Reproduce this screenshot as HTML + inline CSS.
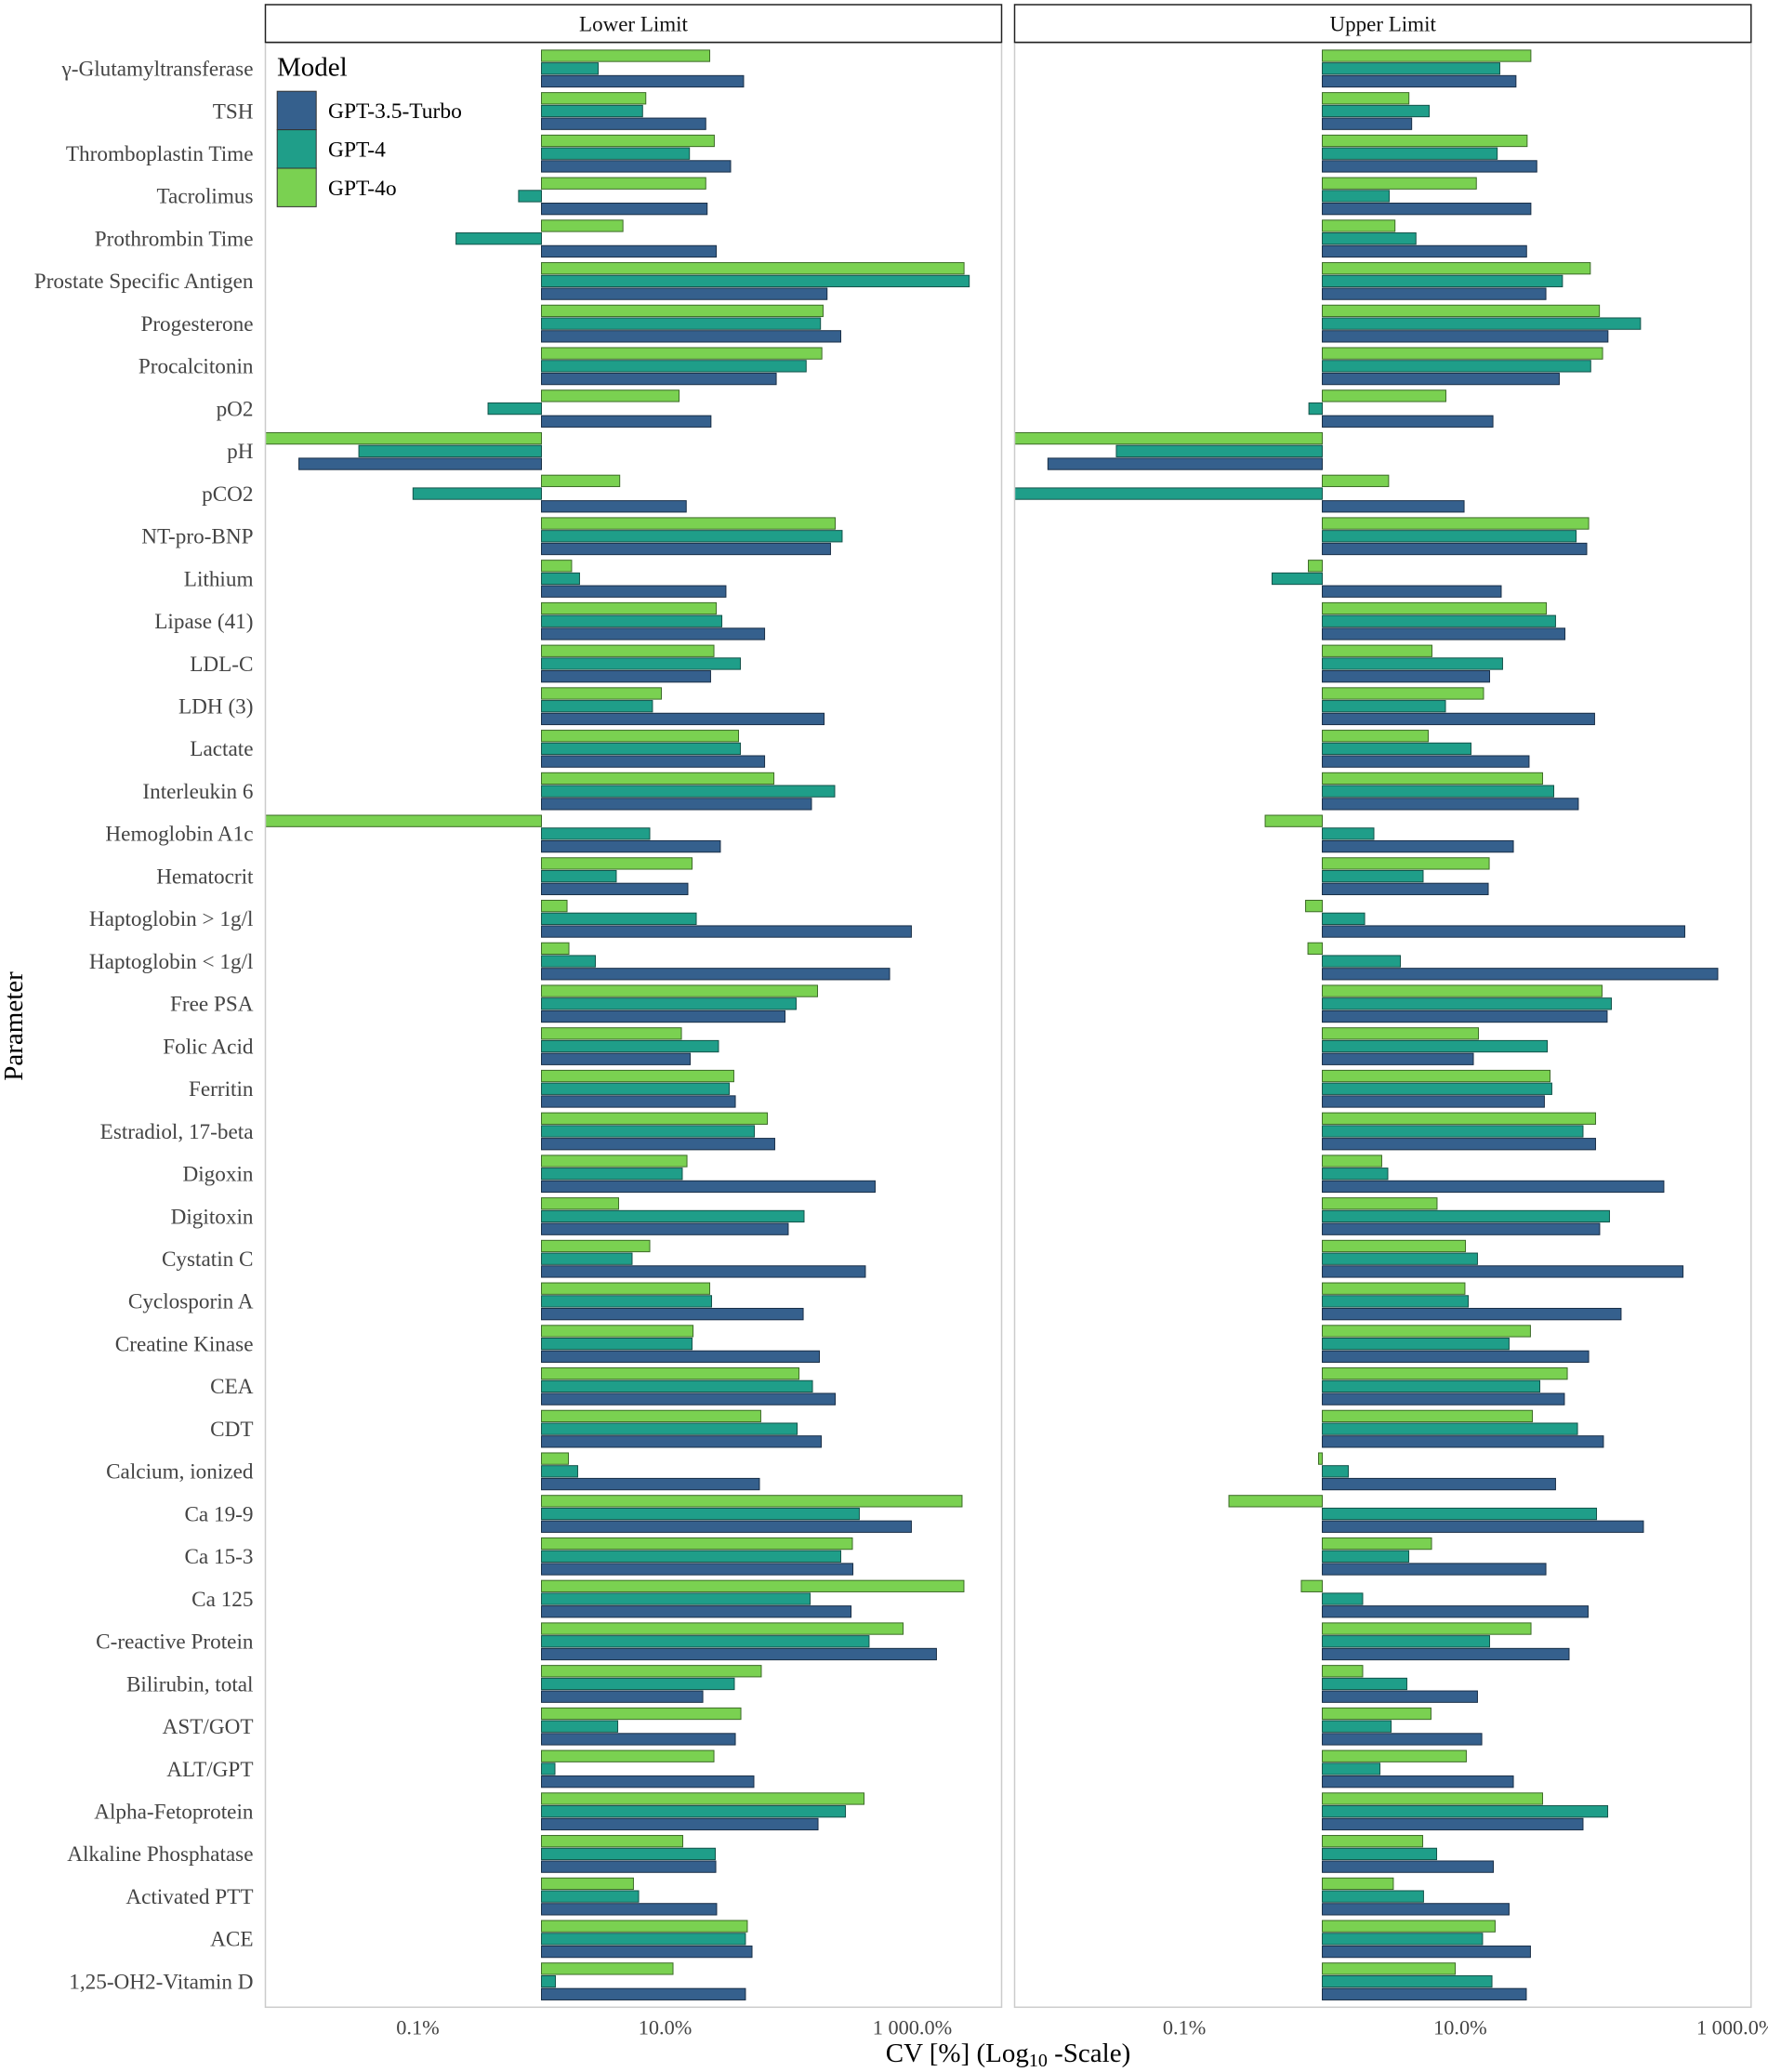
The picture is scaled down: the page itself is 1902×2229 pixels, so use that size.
<!DOCTYPE html>
<html lang="en">
<head>
<meta charset="utf-8">
<title>CV by Parameter and Model</title>
<style>
html,body{margin:0;padding:0;background:#fff;width:1902px;height:2229px;overflow:hidden}
svg{display:block;font-family:"Liberation Serif","Noto Serif CJK SC",serif}
</style>
</head>
<body>
<svg id="chart" xmlns="http://www.w3.org/2000/svg" width="1902" height="2229" viewBox="0 0 1902 2229">
  <defs>
    <clipPath id="clip-lower"><rect x="286" y="46" width="791.5" height="2113.3"/></clipPath>
    <clipPath id="clip-upper"><rect x="1092" y="46" width="791.5" height="2113.3"/></clipPath>
  </defs>
  <rect x="0" y="0" width="1902" height="2229" fill="#ffffff"/>

  <g id="panel-lower" clip-path="url(#clip-lower)"></g>
  <g id="panel-upper" clip-path="url(#clip-upper)"></g>

  <rect x="285.5" y="46.3" width="792" height="2113" fill="none" stroke="#cccccc" stroke-width="1.5"/>
  <rect x="1091.5" y="46.3" width="792.3" height="2113" fill="none" stroke="#cccccc" stroke-width="1.5"/>

  <rect x="285.5" y="5" width="792" height="40.5" fill="#ffffff" stroke="#222222" stroke-width="1.5"/>
  <rect x="1091.5" y="5" width="792.3" height="40.5" fill="#ffffff" stroke="#222222" stroke-width="1.5"/>
  <text x="681.5" y="33.5" font-size="23" text-anchor="middle" fill="#111111">Lower Limit</text>
  <text x="1487.7" y="33.5" font-size="23" text-anchor="middle" fill="#111111">Upper Limit</text>

  <g id="y-labels"></g>
  <g id="x-ticks"></g>

  <text transform="translate(24,1104) rotate(-90)" font-size="29" text-anchor="middle" fill="#000000">Parameter</text>
  <text x="1084.5" y="2218" font-size="29" text-anchor="middle" fill="#000000">CV [%] (Log<tspan dy="5" font-size="20">10</tspan><tspan dy="-5"> -Scale)</tspan></text>

  <g>
    <text x="298" y="81.4" font-size="29" fill="#000000">Model</text>
    <rect x="298.2" y="98.2" width="42" height="41.4" fill="#35608d" stroke="#333333" stroke-width="1"/>
    <rect x="298.2" y="139.6" width="42" height="41.4" fill="#1f9e89" stroke="#333333" stroke-width="1"/>
    <rect x="298.2" y="181" width="42" height="41.4" fill="#7ad151" stroke="#333333" stroke-width="1"/>
    <text x="353" y="127" font-size="23.5" fill="#000000">GPT-3.5-Turbo</text>
    <text x="353" y="168.4" font-size="23.5" fill="#000000">GPT-4</text>
    <text x="353" y="209.8" font-size="23.5" fill="#000000">GPT-4o</text>
  </g>
</svg>

<script>
// Values are log10(CV %). Bars start at log10 = 0 (1 %).
const categories = ["γ-Glutamyltransferase","TSH","Thromboplastin Time","Tacrolimus","Prothrombin Time","Prostate Specific Antigen","Progesterone","Procalcitonin","pO2","pH","pCO2","NT-pro-BNP","Lithium","Lipase (41)","LDL-C","LDH (3)","Lactate","Interleukin 6","Hemoglobin A1c","Hematocrit","Haptoglobin > 1g/l","Haptoglobin < 1g/l","Free PSA","Folic Acid","Ferritin","Estradiol, 17-beta","Digoxin","Digitoxin","Cystatin C","Cyclosporin A","Creatine Kinase","CEA","CDT","Calcium, ionized","Ca 19-9","Ca 15-3","Ca 125","C-reactive Protein","Bilirubin, total","AST/GOT","ALT/GPT","Alpha-Fetoprotein","Alkaline Phosphatase","Activated PTT","ACE","1,25-OH2-Vitamin D"];

const lowerGpt4o = [1.361,0.844,1.398,1.329,0.659,3.418,2.278,2.268,1.113,-2.3,0.633,
  2.376,0.244,1.414,1.395,0.970,1.594,1.880,-2.3,1.218,
  0.207,0.222,2.233,1.132,1.556,1.827,1.177,0.624,0.876,
  1.361,1.226,2.083,1.774,0.218,3.402,2.515,3.417,2.925,
  1.778,1.613,1.395,2.609,1.143,0.744,1.665,1.064];
const lowerGpt4 = [0.459,0.818,1.197,-0.185,-0.691,3.460,2.257,2.141,-0.432,-1.477,-1.039,
  2.432,0.308,1.459,1.609,0.898,1.609,2.372,0.876,0.605,
  1.252,0.436,2.060,1.432,1.519,1.722,1.139,2.124,0.733,
  1.376,1.218,2.192,2.068,0.293,2.571,2.421,2.173,2.650,
  1.560,0.617,0.109,2.459,1.406,0.786,1.650,0.113];
const lowerGpt35 = [1.635,1.329,1.530,1.340,1.414,2.310,2.421,1.899,1.371,-1.962,1.171,
  2.338,1.492,1.805,1.368,2.286,1.805,2.184,1.447,1.184,
  2.992,2.816,1.970,1.203,1.568,1.887,2.699,1.996,2.620,
  2.117,2.248,2.376,2.263,1.763,2.992,2.519,2.504,3.195,
  1.305,1.568,1.718,2.237,1.410,1.417,1.703,1.650];

const upperGpt4o = [1.512,0.628,1.485,1.117,0.527,1.943,2.009,2.032,0.896,-2.3,0.481,
  1.931,-0.101,1.624,0.795,1.169,0.768,1.597,-0.414,1.210,
  -0.121,-0.104,2.028,1.132,1.651,1.981,0.431,0.832,1.038,
  1.034,1.509,1.776,1.523,-0.027,-0.677,0.792,-0.152,1.513,
  0.293,0.788,1.044,1.597,0.728,0.515,1.253,0.964];
const upperGpt4 = [1.287,0.775,1.268,0.485,0.679,1.741,2.307,1.946,-0.097,-1.493,-2.3,
  1.840,-0.364,1.691,1.307,0.893,1.078,1.678,0.374,0.731,
  0.307,0.566,2.096,1.631,1.664,1.890,0.475,2.082,1.125,
  1.058,1.354,1.577,1.850,0.189,1.988,0.627,0.293,1.213,
  0.613,0.499,0.418,2.069,0.829,0.734,1.162,1.230];
const upperGpt35 = [1.404,0.648,1.555,1.512,1.481,1.621,2.071,1.718,1.237,-1.989,1.028,
  1.917,1.297,1.759,1.213,1.974,1.499,1.856,1.385,1.203,
  2.628,2.867,2.065,1.095,1.610,1.981,2.476,2.011,2.615,
  2.166,1.931,1.755,2.038,1.691,2.328,1.621,1.927,1.789,
  1.125,1.156,1.385,1.890,1.240,1.354,1.509,1.479];

const tickValues = [-1, 1, 3];
const tickLabels = ["0.1%", "10.0%", "1 000.0%"];

const SVG_NS = "http://www.w3.org/2000/svg";
const firstRowY = 73.75, rowStep = 45.73, dodgeStep = 13.72, barHeight = 12.3;

function yCenter(i) { return firstRowY + i * rowStep; }
function xLower(v) { return 582.5 + v * 133; }
function xUpper(v) { return 1422.5 + v * 148.4; }

const panels = [
  { id: "panel-lower", prefix: "lower", x: xLower,
    series: [
      { key: "gpt-4o", values: lowerGpt4o, fill: "#7ad151", stroke: "#3d6b28", offset: -1 },
      { key: "gpt-4", values: lowerGpt4, fill: "#1f9e89", stroke: "#14534a", offset: 0 },
      { key: "gpt-3-5-turbo", values: lowerGpt35, fill: "#35608d", stroke: "#1a2f47", offset: 1 }
    ] },
  { id: "panel-upper", prefix: "upper", x: xUpper,
    series: [
      { key: "gpt-4o", values: upperGpt4o, fill: "#7ad151", stroke: "#3d6b28", offset: -1 },
      { key: "gpt-4", values: upperGpt4, fill: "#1f9e89", stroke: "#14534a", offset: 0 },
      { key: "gpt-3-5-turbo", values: upperGpt35, fill: "#35608d", stroke: "#1a2f47", offset: 1 }
    ] }
];

panels.forEach(function (panel) {
  const group = document.getElementById(panel.id);
  const x0 = panel.x(0);
  panel.series.forEach(function (s) {
    s.values.forEach(function (v, i) {
      const xv = panel.x(v);
      const el = document.createElementNS(SVG_NS, "rect");
      
      
      el.setAttribute("data-series", panel.prefix + "-" + s.key);
      el.setAttribute("data-category", categories[i]);
      el.setAttribute("x", Math.min(x0, xv));
      el.setAttribute("y", yCenter(i) + s.offset * dodgeStep - barHeight / 2);
      el.setAttribute("width", Math.abs(xv - x0));
      el.setAttribute("height", barHeight);
      el.setAttribute("fill", s.fill);
      el.setAttribute("stroke", s.stroke);
      el.setAttribute("stroke-width", "1");
      group.appendChild(el);
    });
  });
});

const yLabelGroup = document.getElementById("y-labels");
categories.forEach(function (name, i) {
  const el = document.createElementNS(SVG_NS, "text");
  
  
  el.setAttribute("x", 272.5);
  el.setAttribute("y", yCenter(i) + 7.8);
  el.setAttribute("font-size", "23.2");
  el.setAttribute("text-anchor", "end");
  el.setAttribute("fill", "#444444");
  el.textContent = name;
  yLabelGroup.appendChild(el);
});

const xTickGroup = document.getElementById("x-ticks");
[xLower, xUpper].forEach(function (scale) {
  tickValues.forEach(function (v, i) {
    const el = document.createElementNS(SVG_NS, "text");
    
    
    el.setAttribute("x", scale(v));
    el.setAttribute("y", 2188.5);
    el.setAttribute("font-size", "22.3");
    el.setAttribute("text-anchor", "middle");
    el.setAttribute("fill", "#444444");
    el.textContent = tickLabels[i];
    xTickGroup.appendChild(el);
  });
});
</script>
</body>
</html>
